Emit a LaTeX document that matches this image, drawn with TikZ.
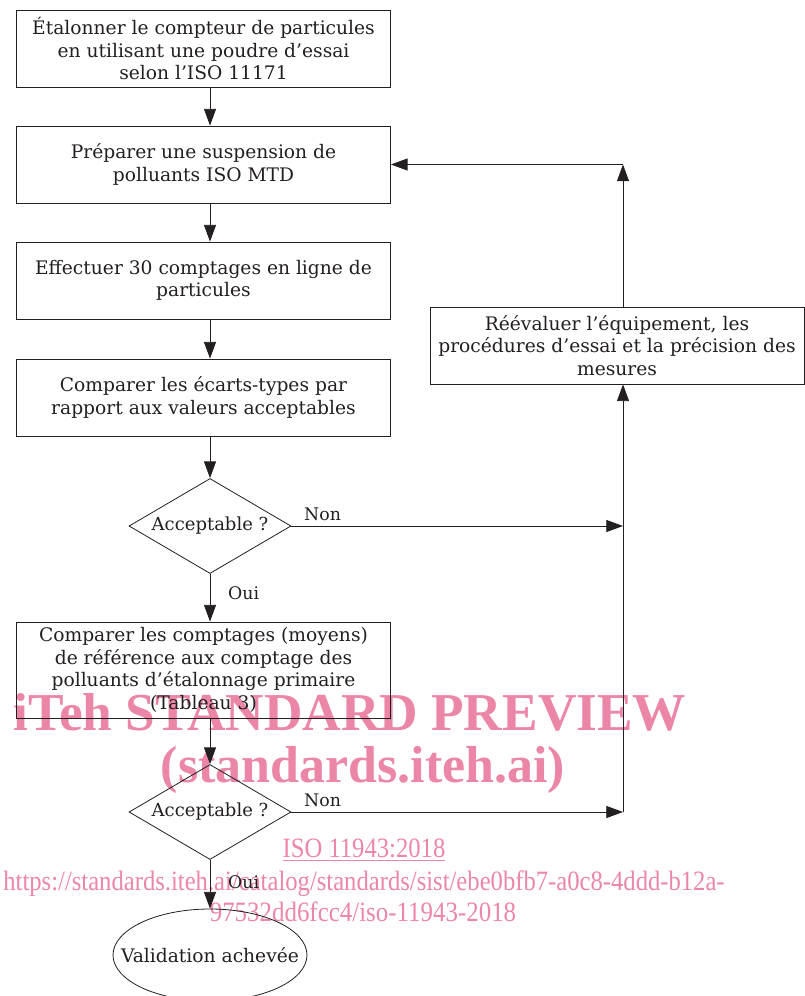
\documentclass[tikz,border=0pt]{standalone}
\usepackage{fontspec}
\usepackage{xcolor}
\usepackage{tikz}
\usetikzlibrary{positioning, shapes.geometric, arrows.meta}
\setmainfont{DejaVu Serif}
\newfontfamily\markfont{Liberation Serif}
\definecolor{inkline}{RGB}{35,31,32}
\definecolor{markpink}{RGB}{236,134,166}

\begin{document}
\begin{tikzpicture}[x=0.75pt, y=-0.75pt,
    every node/.style={align=center, text=inkline, font=\fontsize{14}{17}\selectfont},
    procbox/.style={draw=inkline, rectangle, line width=0.6pt, minimum width=280.5pt, minimum height=57.75pt, inner sep=2pt},
    decision/.style={draw=inkline, diamond, shape aspect=1.7, line width=0.6pt, minimum width=121.5pt, minimum height=71.25pt, inner sep=0pt, font=\fontsize{13.5}{16}\selectfont},
    endnode/.style={draw=inkline, ellipse, line width=0.6pt, minimum width=145.5pt, minimum height=69pt, inner xsep=-20pt, inner ysep=0pt, font=\fontsize{14}{16}\selectfont},
    answer/.style={font=\fontsize{13}{15}\selectfont},
    arr/.style={-{Triangle[length=12.5pt, width=9pt]}, draw=inkline, line width=0.6pt},
    watermark/.style={text=markpink, inner sep=0pt}]
    \useasboundingbox (0,0) rectangle (805,996);

    % Watermark behind the chart
    \node[watermark, font=\markfont\bfseries\fontsize{40}{40}\selectfont] (wmone) at (350, 712) {iTeh STANDARD PREVIEW};
    \node[watermark, font=\markfont\bfseries\fontsize{39}{39}\selectfont] (wmtwo) at (363, 770) {(standards.iteh.ai)};
    \node[watermark, font=\markfont\fontsize{21}{21}\selectfont] (wmiso) at (364, 850) {\scalebox{0.88}[1]{\underline{ISO 11943:2018}}};
    \node[watermark, font=\markfont\fontsize{21}{21}\selectfont] (wmurl) at (364, 884) {\scalebox{0.88}[1]{https://standards.iteh.ai/catalog/standards/sist/ebe0bfb7-a0c8-4ddd-b12a-}};
    \node[watermark, font=\markfont\fontsize{21}{21}\selectfont] (wmurlb) at (363, 912) {\scalebox{0.89}[1]{97532dd6fcc4/iso-11943-2018}};

    % Main column of steps
    \node[procbox] (calib) at (203.5, 48.5) {Étalonner le compteur de particules\\en utilisant une poudre d’essai\\selon l’ISO 11171};
    \node[procbox] (prep) at (203.5, 164.5) {Préparer une suspension de\\polluants ISO MTD};
    \node[procbox] (count) at (203.5, 280.5) {Effectuer 30 comptages en ligne de\\particules};
    \node[procbox] (compare) at (203.5, 397.5) {Comparer les écarts-types par\\rapport aux valeurs acceptables};
    \node[decision] (accone) at (210, 526) {Acceptable ?};
    \node[procbox, minimum height=72pt] (compref) at (203.5, 670) {Comparer les comptages (moyens)\\de référence aux comptage des\\polluants d’étalonnage primaire\\(Tableau 3)};
    \node[decision] (acctwo) at (210, 812) {Acceptable ?};
    \node[endnode] (done) at (210, 955) {Validation achevée};

    % Feedback branch on the right
    \node[procbox] (reeval) at (617, 345.5) {Réévaluer l’équipement, les\\procédures d’essai et la précision des\\mesures};
    \coordinate (joinone) at (623, 526);
    \coordinate (jointwo) at (623, 812);
    \coordinate (turn) at (prep.east -| joinone);

    % Arrows down the main column
    \draw[arr] (calib.south -| accone) -- (prep.north -| accone);
    \draw[arr] (prep.south -| accone) -- (count.north -| accone);
    \draw[arr] (count.south -| accone) -- (compare.north -| accone);
    \draw[arr] (compare.south -| accone) -- (accone.north);
    \draw[arr] (accone.south) -- node[answer, right=10pt, pos=0.4] {Oui} (compref.north -| accone);
    \draw[arr] (compref.south -| acctwo) -- (acctwo.north);
    \draw[arr] (acctwo.south) -- node[answer, right=10pt, pos=0.45] {Oui} (done.north);

    % Arrows of the feedback loop
    \draw[arr] (accone.east) -- node[answer, above right=0pt and 6pt, pos=0] {Non} (joinone);
    \draw[arr] (acctwo.east) -- node[answer, above right=0pt and 6pt, pos=0] {Non} (jointwo);
    \draw[arr] (jointwo) -- (reeval.south -| jointwo);
    \draw[arr] (reeval.north -| turn) -- (turn);
    \draw[arr] (turn) -- (prep.east);
\end{tikzpicture}
\end{document}
